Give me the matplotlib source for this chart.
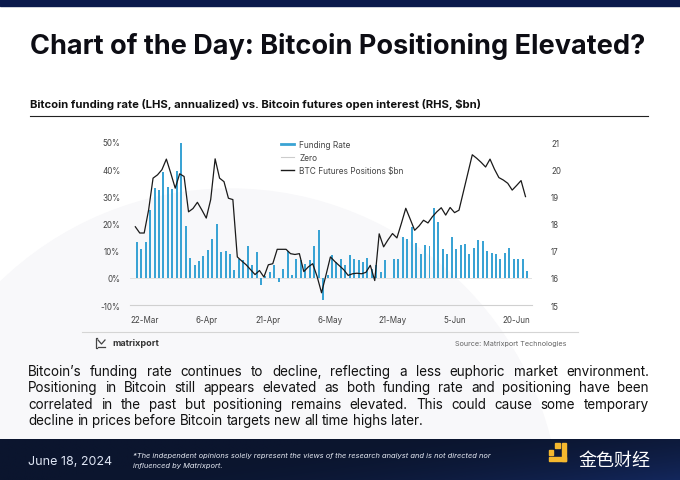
import numpy as np
import matplotlib.pyplot as plt
from matplotlib.patches import Rectangle, Circle
from matplotlib.lines import Line2D

funding_rate = [
    13.2, 10.5, 13.2, 25.0, 33.0, 32.3, 39.0, 33.6, 32.6, 39.2,
    49.6, 19.0, 7.3, 4.9, 6.3, 8.2, 10.1, 14.4, 19.8, 9.5,
    9.8, 8.7, 2.8, 6.8, 6.4, 11.7, 4.6, 9.5, -2.8, 0.8,
    2.0, 4.6, -1.6, 3.3, 10.0, 1.0, 7.0, 6.4, 5.0, 6.4,
    11.7, 17.5, -8.0, 1.0, 8.3, 6.0, 7.0, 4.8, 8.3, 6.8,
    6.7, 5.8, 7.3, 3.3, 4.8, 2.3, 6.4, 0.0, 6.8, 6.8,
    15.0, 14.2, 18.6, 12.8, 8.9, 12.0, 11.6, 25.6, 20.6, 10.5,
    8.9, 15.0, 10.7, 12.0, 12.3, 8.9, 11.1, 13.8, 13.5, 9.8,
    9.3, 8.6, 7.0, 9.3, 11.1, 6.8, 6.8, 6.8, 2.5,
]
btc_positions = [
    17.88, 17.65, 17.65, 18.50, 19.67, 19.79, 19.98, 20.37, 19.85, 19.30,
    19.83, 19.73, 18.43, 18.55, 18.78, 18.50, 18.20, 18.88, 20.38, 19.67,
    19.54, 18.93, 18.88, 16.77, 16.62, 16.48, 16.30, 16.12, 16.27, 16.03,
    16.48, 16.52, 17.05, 17.05, 17.05, 16.89, 16.86, 16.89, 16.23, 16.40,
    16.52, 16.05, 15.45, 16.10, 16.77, 16.60, 16.45, 16.30, 16.09, 16.15,
    16.17, 16.15, 16.20, 16.46, 15.90, 17.62, 17.14, 17.40, 17.63, 17.47,
    18.00, 18.56, 18.16, 17.75, 17.91, 18.12, 18.02, 18.25, 18.43, 18.58,
    18.31, 18.59, 18.40, 18.49, 19.17, 19.85, 20.53, 20.40, 20.25, 20.08,
    20.37, 20.00, 19.69, 19.60, 19.48, 19.23, 19.40, 19.58, 18.99,
]
tick_labels = ['22-Mar', '6-Apr', '21-Apr', '6-May', '21-May', '5-Jun', '20-Jun']
left_ticks = [-10, 0, 10, 20, 30, 40, 50]
right_ticks = [15, 16, 17, 18, 19, 20, 21]

paragraph = [
    "Bitcoin\u2019s funding rate continues to decline, reflecting a less euphoric market environment.",
    "Positioning in Bitcoin still appears elevated as both funding rate and positioning have been",
    "correlated in the past but positioning remains elevated. This could cause some temporary",
    "decline in prices before Bitcoin targets new all time highs later.",
]

W, H = 680, 481
fig = plt.figure(figsize=(W / 100, H / 100), dpi=100)
fig.patch.set_facecolor('white')

# background layer in pixel coordinates
bg = fig.add_axes([0, 0, 1, 1])
bg.set_xlim(0, W)
bg.set_ylim(H, 0)
bg.axis('off')

bg.add_patch(Circle((230, 520), 330, color='#f8f8fa', zorder=0))
bg.add_patch(Rectangle((0, 0), W, 7, color='#0b1a4c', zorder=1))

# footer with gradient
grad = np.linspace(0, 1, 200)
gx, gy = np.meshgrid(grad, np.linspace(0, 1, 40))
t = np.clip(gx * 0.7 + gy * 0.3 - 0.35, 0, 1) ** 2
c0 = np.array([0x0b, 0x15, 0x2e]) / 255
c1 = np.array([0x1e, 0x3f, 0x9a]) / 255
img = c0[None, None, :] * (1 - t[..., None]) + c1[None, None, :] * t[..., None]
bg.imshow(img, extent=(0, W, H, 440), aspect='auto', zorder=1)
bg.set_xlim(0, W)
bg.set_ylim(H, 0)

sans = ['Inter', 'DejaVu Sans']
bg.text(30, 46, 'Chart of the Day: Bitcoin Positioning Elevated?', fontsize=19.5,
        fontweight='bold', family=sans, color='#0d0d14', va='center', ha='left', zorder=3)
bg.text(30, 104, 'Bitcoin funding rate (LHS, annualized) vs. Bitcoin futures open interest (RHS, $bn)',
        fontsize=8.1, fontweight='bold', family=sans, color='#111111', va='center', ha='left', zorder=3)
bg.plot([30, 648], [117, 117], color='#222222', lw=0.8, zorder=3)

bg.plot([82, 578], [333, 333], color='#d5d5d5', lw=0.8, zorder=3)
bg.text(112, 344, 'matrixport', fontsize=6.5, fontweight='bold', family=sans,
        color='#333333', va='center', ha='left', zorder=3)
# small logo mark
bg.plot([97, 96, 96, 97], [339, 339, 349, 349], color='#444444', lw=0.9, zorder=3)
bg.plot([98, 101.5, 105], [341, 345, 341], color='#444444', lw=0.9, zorder=3)
bg.plot([98, 105], [348, 348], color='#444444', lw=0.9, zorder=3)
bg.text(566, 344, 'Source: Matrixport Technologies', fontsize=5.2, family=sans,
        color='#666666', va='center', ha='right', zorder=3)

# justified paragraph
renderer = fig.canvas.get_renderer()
x0, x1 = 28, 649
line_y = [372, 388.5, 405, 421.5]
fs = 9.7
for i, line in enumerate(paragraph):
    words = line.split(' ')
    items = [bg.text(0, line_y[i], w, fontsize=fs, family=sans, color='#111111',
                     va='center', ha='left', zorder=3) for w in words]
    widths = [it.get_window_extent(renderer).width for it in items]
    if i < len(paragraph) - 1:
        gap = (x1 - x0 - sum(widths)) / (len(words) - 1)
    else:
        gap = fig.dpi * fs / 72 * 0.27
    x = x0
    for it, w in zip(items, widths):
        it.set_x(x)
        x += w + gap

# footer texts
bg.text(28, 462, 'June 18, 2024', fontsize=9, family=sans, color='#dfe6f5',
        va='center', ha='left', zorder=3)
bg.text(133, 456.5, '*The independent opinions solely represent the views of the research analyst and is not directed nor',
        fontsize=5.4, style='italic', family=sans, color='#e8ecf5', va='center', ha='left', zorder=3)
bg.text(133, 466.5, 'influenced by Matrixport.', fontsize=5.4, style='italic', family=sans,
        color='#e8ecf5', va='center', ha='left', zorder=3)
gold = '#f5b82e'
bg.add_patch(Rectangle((555, 444), 5, 5, color=gold, zorder=3))
bg.add_patch(Rectangle((562, 444), 4, 18, color=gold, zorder=3))
bg.add_patch(Rectangle((549, 458), 17, 4, color=gold, zorder=3))
bg.add_patch(Rectangle((549, 451), 4, 5, color=gold, zorder=3))
bg.text(578, 461, '金色财经', fontsize=13, family=['Noto Sans CJK SC', 'DejaVu Sans'],
        color='white', va='center', ha='left', zorder=3)

# chart
left, right = 130 / W, 531.7 / W
bottom, top = 1 - 306 / H, 1 - 143 / H
ax = fig.add_axes([left, bottom, right - left, top - bottom])
ax.patch.set_alpha(0)
x = np.arange(len(funding_rate))
ax.bar(x + 0.35, funding_rate, width=0.45, color='#3aa3d4', zorder=2)
ax.axhline(0, color='#dddddd', lw=0.6, zorder=1)
ax.set_ylim(-10, 50)
ax.set_xlim(-1.2, 89.4)
ax.set_yticks(left_ticks)
ax.set_yticklabels([f'{v}%' for v in left_ticks])
ax.set_xticks(np.arange(2, len(funding_rate), 14))
ax.set_xticklabels(tick_labels)
for s in ['top', 'left', 'right']:
    ax.spines[s].set_visible(False)
ax.spines['bottom'].set_color('#d0d0d0')
ax.spines['bottom'].set_linewidth(0.8)
ax.tick_params(axis='both', length=0, labelsize=5.8, colors='#444444')
ax.tick_params(axis='x', pad=7)
ax.tick_params(axis='y', pad=7)
for lab in ax.get_xticklabels() + ax.get_yticklabels():
    lab.set_family(sans)

ax2 = ax.twinx()
ax2.plot(x, btc_positions, color='#1a1a1a', lw=0.9, zorder=3)
ax2.set_ylim(15, 21)
ax2.set_yticks(right_ticks)
for s in ['top', 'left', 'right', 'bottom']:
    ax2.spines[s].set_visible(False)
ax2.tick_params(axis='y', length=0, labelsize=5.8, colors='#444444', pad=14)
for lab in ax2.get_yticklabels():
    lab.set_family(sans)

handles = [Line2D([], [], color='#3aa3d4', lw=2),
           Line2D([], [], color='#cccccc', lw=0.8),
           Line2D([], [], color='#1a1a1a', lw=1)]
leg = ax2.legend(handles, ['Funding Rate', 'Zero', 'BTC Futures Positions $bn'],
                 loc='upper left', bbox_to_anchor=(281 / W, 1 - 141 / H),
                 bbox_transform=fig.transFigure, frameon=False,
                 handlelength=1.6, handletextpad=0.6, labelspacing=0.5, borderpad=0,
                 borderaxespad=0, prop={'family': sans, 'size': 6})
for txt in leg.get_texts():
    txt.set_color('#444444')

fig.savefig('out.png', dpi=100)
